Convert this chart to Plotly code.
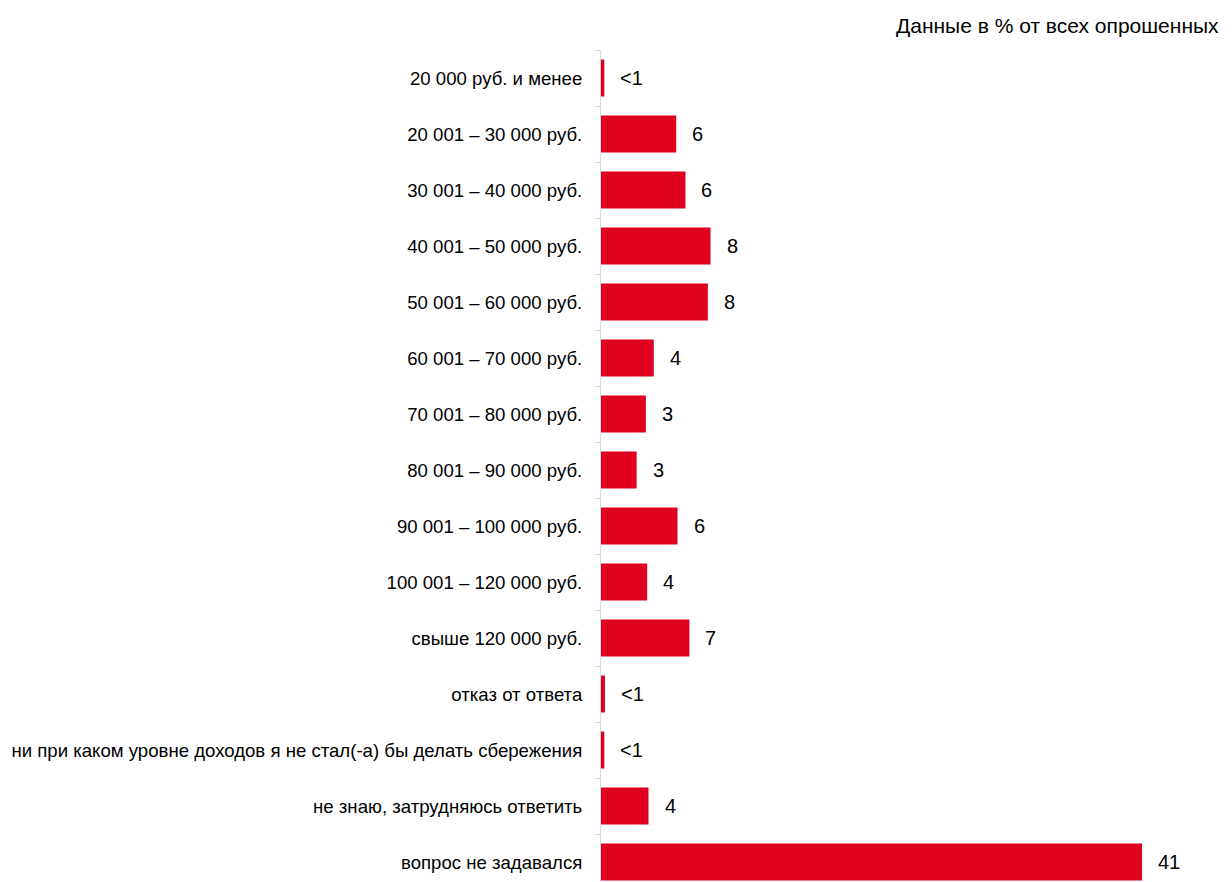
import plotly.graph_objects as go

categories = [
    "20 000 руб. и менее",
    "20 001 – 30 000 руб.",
    "30 001 – 40 000 руб.",
    "40 001 – 50 000 руб.",
    "50 001 – 60 000 руб.",
    "60 001 – 70 000 руб.",
    "70 001 – 80 000 руб.",
    "80 001 – 90 000 руб.",
    "90 001 – 100 000 руб.",
    "100 001 – 120 000 руб.",
    "свыше 120 000 руб.",
    "отказ от ответа",
    "ни при каком уровне доходов я не стал(-а) бы делать сбережения",
    "не знаю, затрудняюсь ответить",
    "вопрос не задавался",
]
values = [0.25, 5.7, 6.4, 8.3, 8.1, 4.0, 3.4, 2.7, 5.8, 3.5, 6.7, 0.3, 0.25, 3.6, 41.0]
value_labels = ["<1", "6", "6", "8", "8", "4", "3", "3", "6", "4", "7", "<1", "<1", "4", "41"]
note = "Данные в % от всех опрошенных"

FONT = "Liberation Sans, Arial, sans-serif"
RED = "#E0001E"

# page body adds an 8px offset; keep the figure inside the 1232x882 window
W, H = 1224, 874
L, T, R, B = 593, 42, 32, 0
plot_h = H - T - B
plot_w = W - L - R
row_px = 56.0

fig = go.Figure()
fig.add_trace(go.Bar(
    x=values, y=categories, orientation="h",
    marker=dict(color=RED, line=dict(width=0)),
    width=0.66, hoverinfo="skip",
))
for c, v, t in zip(categories, values, value_labels):
    fig.add_annotation(x=v, y=c, text=t, showarrow=False, xanchor="left",
                       xshift=14, font=dict(family=FONT, size=20, color="#000000"))

fig.add_annotation(x=1, xref="paper", xanchor="right", xshift=21,
                   y=1 + (T - 17) / plot_h, yref="paper", yanchor="middle",
                   text=note, showarrow=False,
                   font=dict(family=FONT, size=21, color="#000000"))

fig.update_layout(
    width=W, height=H,
    margin=dict(l=L, r=R, t=T, b=B),
    plot_bgcolor="white", paper_bgcolor="white",
    showlegend=False,
    font=dict(family=FONT, size=18.6, color="#000000"),
    xaxis=dict(range=[0, plot_w * 41.0 / 541.0], visible=False, showgrid=False, zeroline=False),
    yaxis=dict(type="category", categoryorder="array", categoryarray=categories,
               range=[plot_h / row_px - 0.5, -0.5], showline=True, linecolor="#D9D9D9", linewidth=1,
               ticks="outside", tickson="boundaries", ticklen=5, tickcolor="#D9D9D9",
               ticklabelstandoff=14, showgrid=False, automargin=False,
               tickfont=dict(family=FONT, size=18.6, color="#000000")),
)
fig.write_html("out.html")
